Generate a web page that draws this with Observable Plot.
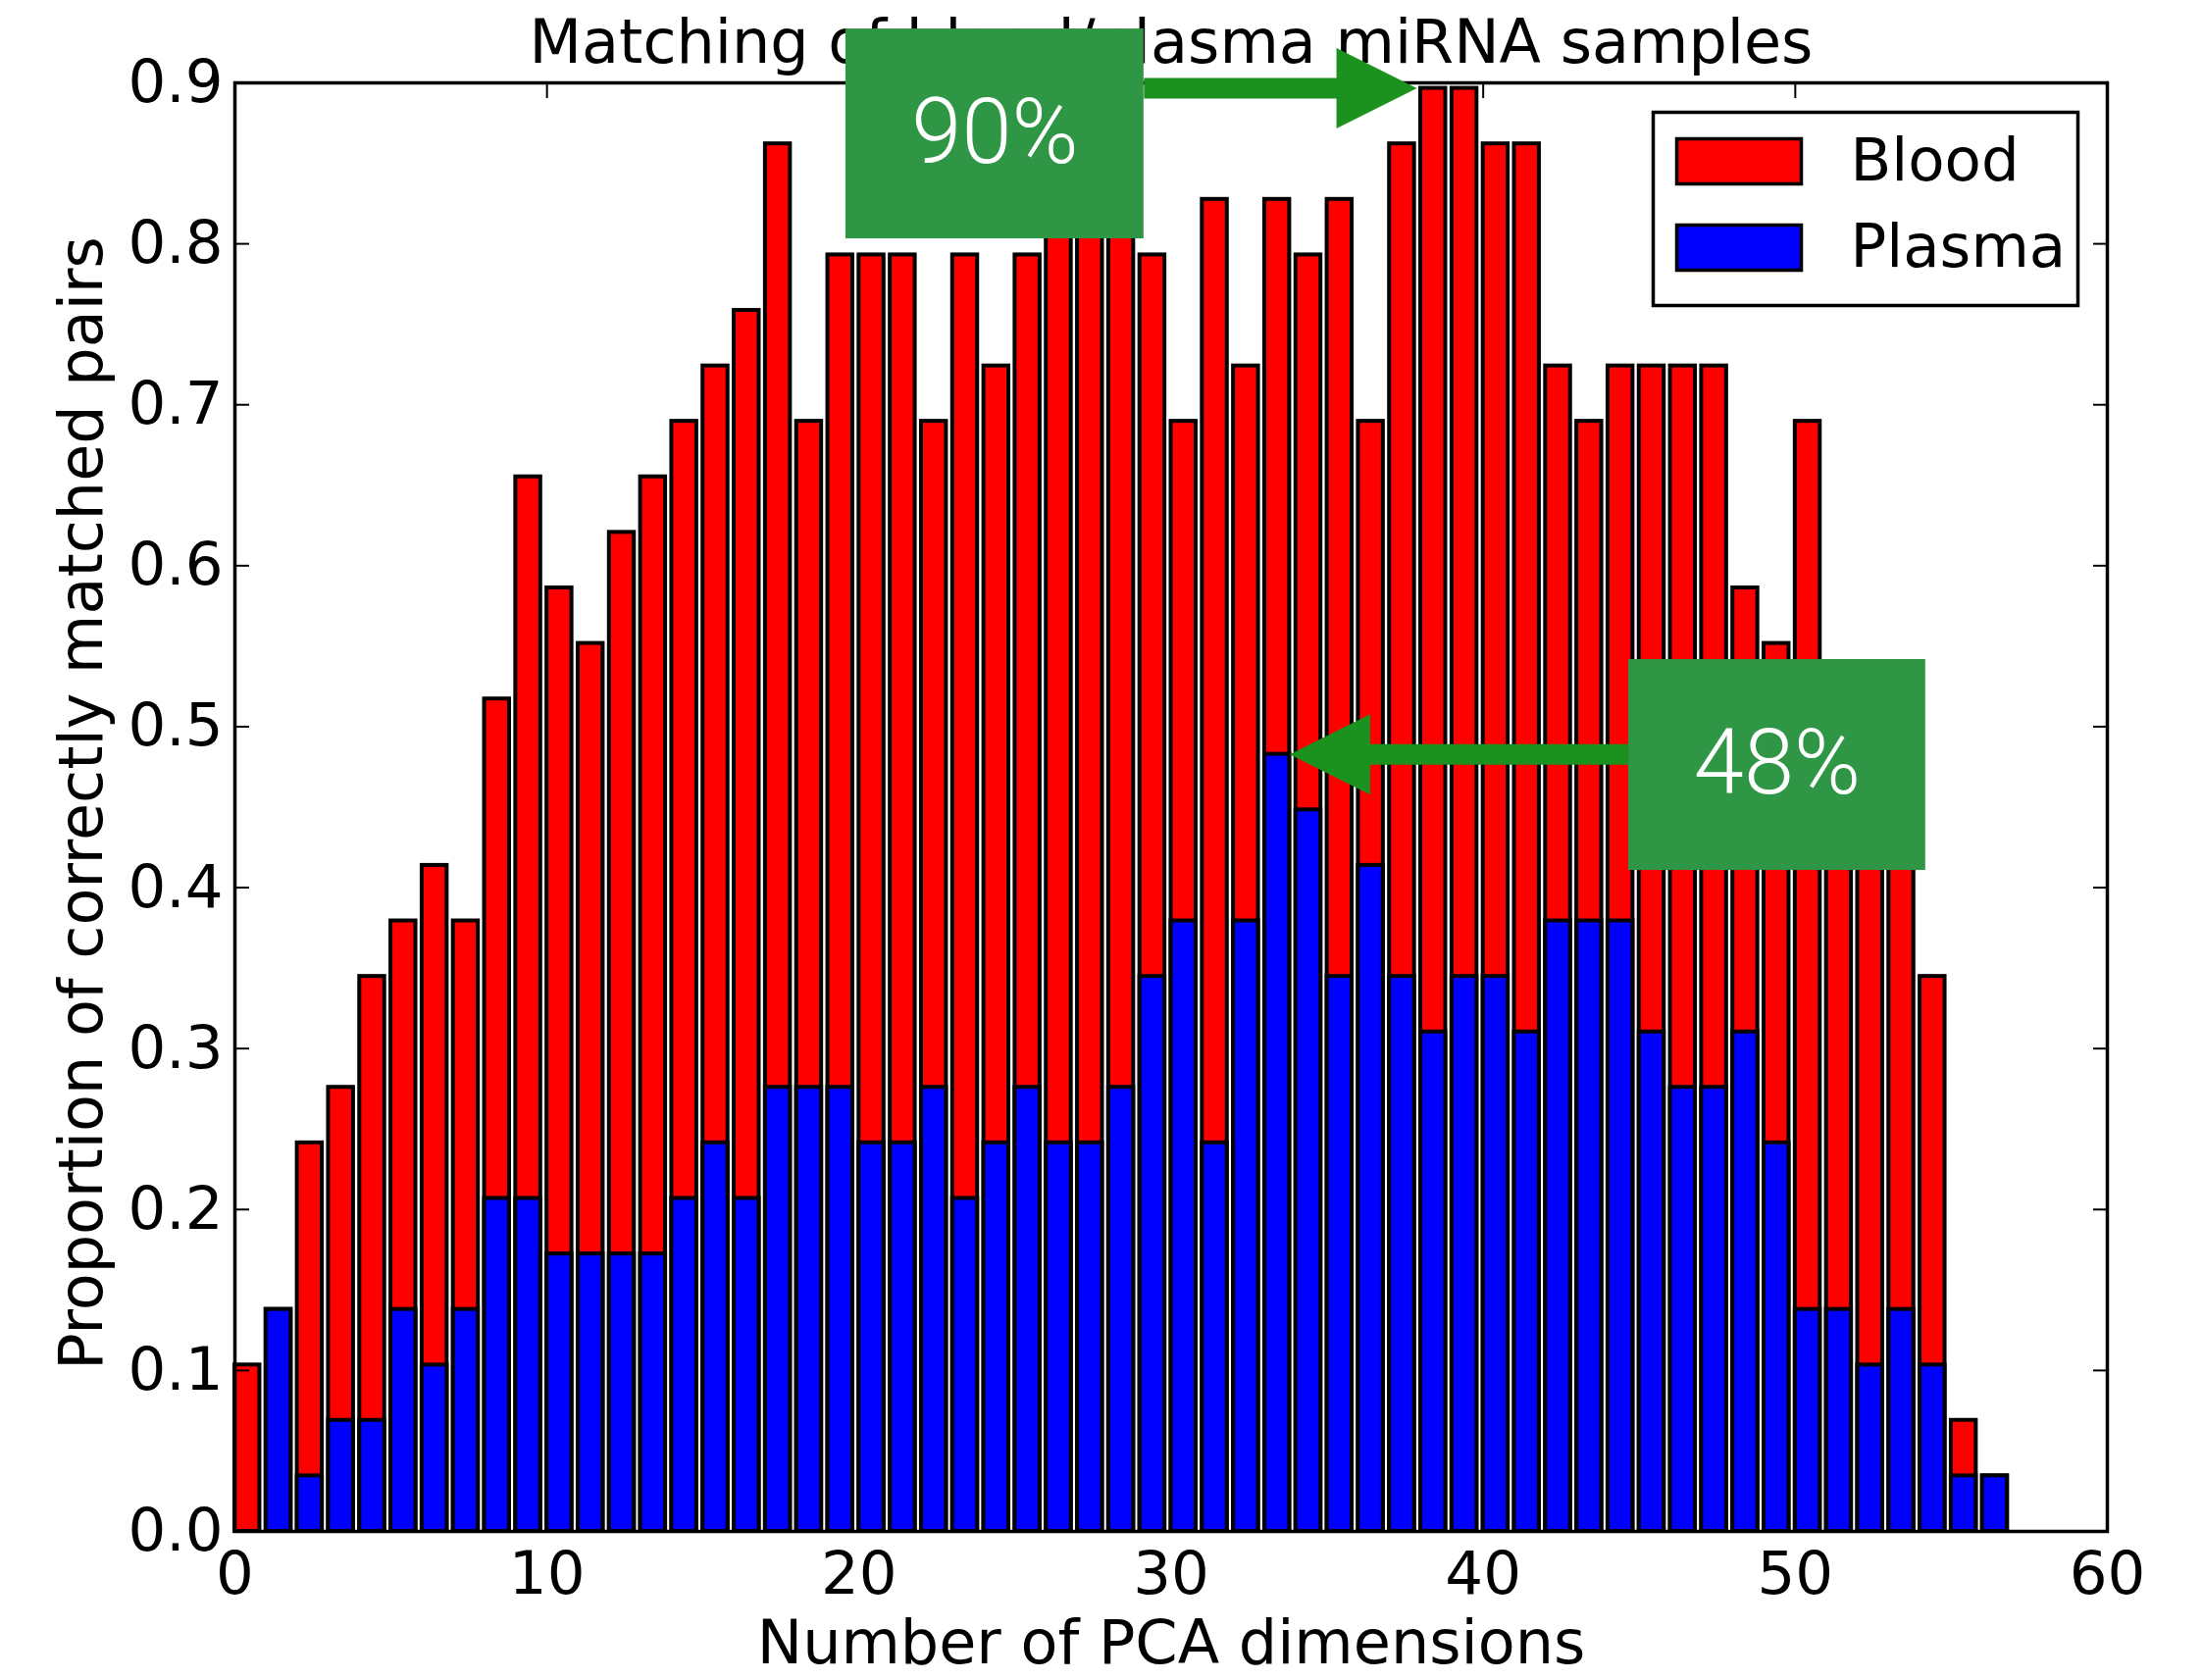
<!DOCTYPE html>
<html>
<head>
<meta charset="utf-8">
<script src="https://cdn.jsdelivr.net/npm/d3@7"></script>
<script src="https://cdn.jsdelivr.net/npm/@observablehq/plot@0.6"></script>
<style>
  html, body { margin: 0; padding: 0; background: #ffffff; }
</style>
</head>
<body>
<div id="chart"></div>
<script>
// Number of PCA dimensions used for matching (one bar per value)
const dimensions = d3.range(58);

// Proportion of correctly matched blood / plasma sample pairs
const blood = [
  0.1034, 0.1379, 0.2414, 0.2759, 0.3448, 0.3793, 0.4138, 0.3793, 0.5172, 0.6552,
  0.5862, 0.5517, 0.6207, 0.6552, 0.6897, 0.7241, 0.7586, 0.8621, 0.6897, 0.7931,
  0.7931, 0.7931, 0.6897, 0.7931, 0.7241, 0.7931, 0.8276, 0.8621, 0.8276, 0.7931,
  0.6897, 0.8276, 0.7241, 0.8276, 0.7931, 0.8276, 0.6897, 0.8621, 0.8966, 0.8966,
  0.8621, 0.8621, 0.7241, 0.6897, 0.7241, 0.7241, 0.7241, 0.7241, 0.5862, 0.5517,
  0.6897, 0.4828, 0.4828, 0.4483, 0.3448, 0.0690, 0.0345, 0
];
const plasma = [
  0, 0.1379, 0.0345, 0.0690, 0.0690, 0.1379, 0.1034, 0.1379, 0.2069, 0.2069,
  0.1724, 0.1724, 0.1724, 0.1724, 0.2069, 0.2414, 0.2069, 0.2759, 0.2759, 0.2759,
  0.2414, 0.2414, 0.2759, 0.2069, 0.2414, 0.2759, 0.2414, 0.2414, 0.2759, 0.3448,
  0.3793, 0.2414, 0.3793, 0.4828, 0.4483, 0.3448, 0.4138, 0.3448, 0.3103, 0.3448,
  0.3448, 0.3103, 0.3793, 0.3793, 0.3793, 0.3103, 0.2759, 0.2759, 0.3103, 0.2414,
  0.1379, 0.1379, 0.1034, 0.1379, 0.1034, 0.0345, 0.0345, 0
];

const seriesNames = ["Blood", "Plasma"];
const seriesColors = ["#ff0000", "#0000ff"];

const xTicks = [0, 10, 20, 30, 40, 50, 60];
const yTicks = [0, 0.1, 0.2, 0.3, 0.4, 0.5, 0.6, 0.7, 0.8, 0.9];

const titleText = "Matching of blood/plasma miRNA samples";
const xLabel = "Number of PCA dimensions";
const yLabel = "Proportion of correctly matched pairs";

// Callouts: best blood score and best plasma score
const pct = (v) => `${Math.round(v * 100)}%`;
const bestBlood = 38;
const bestPlasma = 33;
const callouts = [
  {label: pct(blood[bestBlood]), tipX: bestBlood, tipY: blood[bestBlood], dir: "right",
   x1: 19.58, x2: 29.13, y1: 0.8031, y2: 0.9335},
  {label: pct(plasma[bestPlasma]), tipX: bestPlasma + 0.8, tipY: plasma[bestPlasma], dir: "left",
   x1: 44.66, x2: 54.18, y1: 0.4107, y2: 0.5417}
];

const W = 2245, H = 1713;
const BAR = 0.8;
const FONT = "'DejaVu Sans', 'Liberation Sans', sans-serif";
const boxGreen = "#2f9645";
const arrowGreen = "#1b911f";

// custom symbols: legend swatch and arrow heads
const swatch = {draw(ctx) { ctx.rect(-63.5, -23, 127, 46); }};
const headRight = {draw(ctx) { ctx.moveTo(0, 0); ctx.lineTo(-82, -41); ctx.lineTo(-82, 41); ctx.closePath(); }};
const headLeft = {draw(ctx) { ctx.moveTo(0, 0); ctx.lineTo(82, -41); ctx.lineTo(82, 41); ctx.closePath(); }};

const legendMarks = seriesNames.flatMap((name, i) => [
  Plot.dot([name], {frameAnchor: "top-right", dx: -375.5, dy: 80 + i * 88,
    symbol: swatch, fill: (d) => d, stroke: "black", strokeWidth: 3.5}),
  Plot.text([name], {frameAnchor: "top-right", dx: -262, dy: 80 + i * 88,
    text: (d) => d, textAnchor: "start", lineAnchor: "middle", fontSize: 61, fill: "black"})
]);

const chart = Plot.plot({
  width: W,
  height: H,
  marginLeft: 239,
  marginRight: 97,
  marginTop: 84,
  marginBottom: 152,
  style: {fontFamily: FONT, fontSize: "60px", background: "#ffffff", color: "black"},
  x: {domain: [0, 60], axis: null},
  y: {domain: [0, 0.9], axis: null},
  color: {domain: seriesNames, range: seriesColors},
  marks: [
    // overlapping bars: blood behind, plasma in front
    Plot.rectY(dimensions, {x1: (i) => i, x2: (i) => i + BAR, y: (i) => blood[i],
      fill: () => "Blood", stroke: "black", strokeWidth: 4}),
    Plot.rectY(dimensions, {x1: (i) => i, x2: (i) => i + BAR, y: (i) => plasma[i],
      fill: () => "Plasma", stroke: "black", strokeWidth: 4}),

    // axes: inward ticks on all four sides
    Plot.axisX(xTicks, {anchor: "bottom", tickSize: -15, tickPadding: 35, strokeWidth: 2,
      tickFormat: (d) => String(d), label: null, fontSize: 61}),
    Plot.axisX(xTicks, {anchor: "top", tickSize: -15, strokeWidth: 2, fill: "none", label: null}),
    Plot.axisY(yTicks, {anchor: "left", tickSize: -15, tickPadding: 27, strokeWidth: 2,
      tickFormat: d3.format(".1f"), label: null, fontSize: 61}),
    Plot.axisY(yTicks, {anchor: "right", tickSize: -15, strokeWidth: 2, fill: "none", label: null}),
    Plot.frame({stroke: "black", strokeWidth: 3.5}),

    // axis titles and chart title
    Plot.text([xLabel], {frameAnchor: "bottom", textAnchor: "middle", lineAnchor: "bottom", dy: 134,
      text: (d) => d, fontSize: 62}),
    Plot.text([yLabel], {frameAnchor: "left", textAnchor: "middle", lineAnchor: "bottom", rotate: -90,
      dx: -136, dy: -4, text: (d) => d, fontSize: 62}),
    Plot.text([titleText], {frameAnchor: "top", textAnchor: "middle", lineAnchor: "bottom", dy: -21,
      text: (d) => d, fontSize: 62}),

    // legend
    Plot.frame({fill: "white", stroke: "black", strokeWidth: 3.5,
      insetLeft: 1446, insetRight: 30, insetTop: 30, insetBottom: 1250}),
    ...legendMarks,

    // callout boxes with arrows
    Plot.rect(callouts, {x1: "x1", x2: "x2", y1: "y1", y2: "y2", fill: boxGreen, ariaLabel: "callout box"}),
    Plot.text(callouts, {x: (c) => (c.x1 + c.x2) / 2, y: (c) => (c.y1 + c.y2) / 2, text: "label",
      fill: "white", fontSize: 92, fontWeight: 300, fontFamily: "Roboto, 'Open Sans', Lato, sans-serif"}),
    Plot.arrow(callouts, {x1: (c) => (c.dir === "right" ? c.x2 : c.x1), y1: "tipY", x2: "tipX", y2: "tipY",
      stroke: arrowGreen, strokeWidth: 21, strokeLinecap: "butt", headLength: 0, insetEnd: 60}),
    Plot.dot(callouts.filter((c) => c.dir === "right"), {x: "tipX", y: "tipY", dx: -4, symbol: headRight,
      fill: arrowGreen, stroke: "none"}),
    Plot.dot(callouts.filter((c) => c.dir === "left"), {x: "tipX", y: "tipY", symbol: headLeft,
      fill: arrowGreen, stroke: "none"})
  ]
});

d3.select(chart).selectAll('g[aria-label="callout box"] rect')
  .style("filter", "drop-shadow(4px 5px 6px rgba(0,0,0,0.35))");

document.getElementById("chart").appendChild(chart);
</script>
</body>
</html>
